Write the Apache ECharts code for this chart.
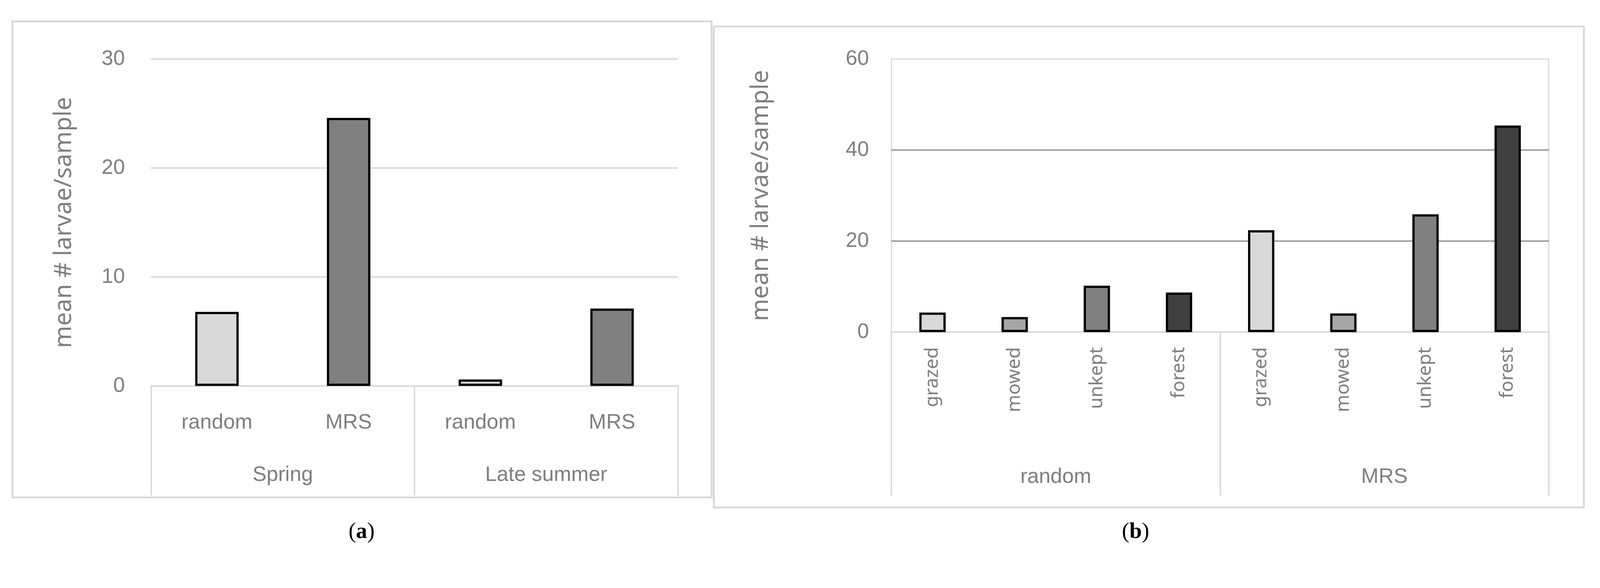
<!DOCTYPE html>
<html>
<head>
<meta charset="utf-8">
<script src="https://cdn.jsdelivr.net/npm/echarts@6/dist/echarts.min.js"></script>
<style>html,body{margin:0;padding:0;background:#fff;overflow:hidden}#main{width:100vw;height:100vh}</style>
</head>
<body>
<div id="main"></div>
<script>
// panel (a)
var seasons = ['Spring', 'Late summer'];
var methodsA = ['random', 'MRS', 'random', 'MRS'];
var valuesA = [6.8, 24.6, 0.6, 7.1];
var colorsA = ['#d9d9d9', '#808080', '#d9d9d9', '#808080'];
// panel (b)
var methodsB = ['random', 'MRS'];
var habitats = ['grazed', 'mowed', 'unkept', 'forest', 'grazed', 'mowed', 'unkept', 'forest'];
var valuesB = [4.3, 3.3, 10.2, 8.7, 22.4, 4.1, 25.9, 45.4];
var colorsB = ['#d9d9d9', '#a6a6a6', '#808080', '#404040', '#d9d9d9', '#a6a6a6', '#808080', '#404040'];
var yTicksA = [0, 10, 20, 30];
var yTicksB = [0, 20, 40, 60];

var font = '"Liberation Sans Narrow", "Liberation Sans", sans-serif';
var grey = '#7f7f7f';
var light = '#d9d9d9';

// layout was measured on a 4279x1505 page; scale to whatever the viewport really is
var s = Math.min(window.innerWidth / 4279, window.innerHeight / 1505);
function p(v) { return v * s; }

var chart = echarts.init(document.getElementById('main'));
var option = {
  animation: false,
  backgroundColor: '#fff',
  grid: [
    {left: p(404), top: p(158), width: p(1409), height: p(874)},
    {left: p(2384), top: p(158), width: p(1758), height: p(730), show: true, borderColor: light, borderWidth: p(3)}
  ],
  xAxis: [
    {gridIndex: 0, type: 'category', data: methodsA,
      axisLine: {show: false}, axisTick: {show: false},
      axisLabel: {color: grey, fontSize: p(56), fontFamily: font, margin: p(70)}},
    {gridIndex: 0, type: 'category', data: seasons, position: 'bottom',
      axisLine: {show: true, lineStyle: {color: light, width: p(4)}},
      axisTick: {show: true, length: p(293), lineStyle: {color: light, width: p(4)}},
      axisLabel: {color: grey, fontSize: p(56), fontFamily: font, margin: p(210)}},
    {gridIndex: 1, type: 'category', data: habitats,
      axisLine: {show: false}, axisTick: {show: false},
      axisLabel: {color: grey, fontSize: p(50), fontFamily: '"Noto Sans", sans-serif', rotate: 90, margin: p(40)}},
    {gridIndex: 1, type: 'category', data: methodsB, position: 'bottom',
      axisLine: {show: true, lineStyle: {color: light, width: p(4)}},
      axisTick: {show: true, length: p(437), lineStyle: {color: light, width: p(4)}},
      axisLabel: {color: grey, fontSize: p(56), fontFamily: font, margin: p(360)}}
  ],
  yAxis: [
    {gridIndex: 0, type: 'value', min: yTicksA[0], max: yTicksA[yTicksA.length - 1], interval: 10,
      name: 'mean # larvae/sample', nameLocation: 'middle', nameGap: p(200),
      nameTextStyle: {color: grey, fontSize: p(64), fontFamily: '"Noto Sans", sans-serif'},
      axisLine: {show: false}, axisTick: {show: false},
      axisLabel: {color: grey, fontSize: p(56), fontFamily: font, margin: p(70)},
      splitLine: {lineStyle: {color: light, width: p(4)}}},
    {gridIndex: 1, type: 'value', min: yTicksB[0], max: yTicksB[yTicksB.length - 1], interval: 20,
      name: 'mean # larvae/sample', nameLocation: 'middle', nameGap: p(317),
      nameTextStyle: {color: grey, fontSize: p(64), fontFamily: '"Noto Sans", sans-serif'},
      axisLine: {show: false}, axisTick: {show: false},
      axisLabel: {color: grey, fontSize: p(56), fontFamily: font, margin: p(60)},
      splitLine: {lineStyle: {color: [light, '#595959', '#595959', light], width: p(2)}}}
  ],
  series: [
    {type: 'bar', xAxisIndex: 0, yAxisIndex: 0, barWidth: '33%',
      data: valuesA.map(function (v, i) { return {value: v, itemStyle: {color: colorsA[i]}}; }),
      itemStyle: {borderColor: '#000', borderWidth: p(6)}},
    {type: 'bar', xAxisIndex: 2, yAxisIndex: 1, barWidth: '32%',
      data: valuesB.map(function (v, i) { return {value: v, itemStyle: {color: colorsB[i]}}; }),
      itemStyle: {borderColor: '#000', borderWidth: p(6)}}
  ],
  graphic: [
    {type: 'rect', shape: {x: p(33), y: p(57), width: p(1870), height: p(1273)}, style: {fill: 'none', stroke: light, lineWidth: p(5)}},
    {type: 'rect', shape: {x: p(1909), y: p(71), width: p(2327), height: p(1286)}, style: {fill: 'none', stroke: light, lineWidth: p(5)}},
    {type: 'text', x: p(967), y: p(1423), style: {text: '({b|a})', align: 'center', verticalAlign: 'middle',
      font: p(60) + 'px "Liberation Serif", serif', fill: '#000', rich: {b: {fontWeight: 'bold', fontSize: p(60), fontFamily: '"Liberation Serif", serif'}}}},
    {type: 'text', x: p(3037), y: p(1423), style: {text: '({b|b})', align: 'center', verticalAlign: 'middle',
      font: p(60) + 'px "Liberation Serif", serif', fill: '#000', rich: {b: {fontWeight: 'bold', fontSize: p(60), fontFamily: '"Liberation Serif", serif'}}}}
  ]
};
chart.setOption(option);
</script>
</body>
</html>
